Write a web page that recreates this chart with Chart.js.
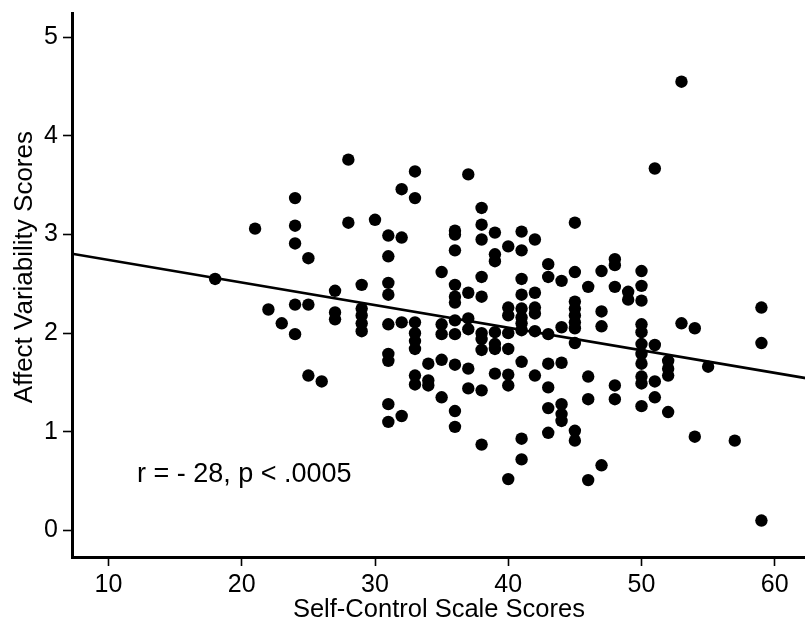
<!DOCTYPE html>
<html><head><meta charset="utf-8">
<script src="https://cdn.jsdelivr.net/npm/chart.js@4.4.1/dist/chart.umd.min.js"></script>
<style>html,body{margin:0;padding:0;background:#fff;overflow:hidden;}#wrap{width:805px;height:633px;overflow:hidden;}canvas{display:block;}</style>
</head><body>
<div id="wrap"><canvas id="c" width="812" height="633"></canvas></div>
<script>
const xTickValues = [10, 20, 30, 40, 50, 60];
const yTickValues = [0, 1, 2, 3, 4, 5];
const xTitle = 'Self-Control Scale Scores';
const yTitle = 'Affect Variability Scores';
const noteText = 'r = - 28, p < .0005';

const scoreX = [
  18, 21, 22, 23,
  24, 24, 24, 24, 24,
  25, 25, 25, 26,
  27, 27, 27, 28, 28,
  29, 29, 29, 29, 29, 30,
  31, 31, 31, 31, 31, 31, 31, 31, 31,
  32, 32, 32, 32,
  33, 33, 33, 33, 33, 33, 33, 33,
  34, 34, 34,
  35, 35, 35, 35, 35,
  36, 36, 36, 36, 36, 36, 36, 36, 36, 36, 36,
  37, 37, 37, 37, 37, 37,
  38, 38, 38, 38, 38, 38, 38, 38, 38, 38,
  39, 39, 39, 39, 39, 39, 39,
  40, 40, 40, 40, 40, 40, 40, 40,
  41, 41, 41, 41, 41, 41, 41, 41, 41, 41, 41,
  42, 42, 42, 42, 42, 42,
  43, 43, 43, 43, 43, 43, 43,
  44, 44, 44, 44, 44, 44,
  45, 45, 45, 45, 45, 45, 45, 45, 45, 45,
  46, 46, 46, 46,
  47, 47, 47, 47,
  48, 48, 48, 48, 48,
  49, 49,
  50, 50, 50, 50, 50, 50, 50, 50, 50, 50, 50,
  51, 51, 51, 51,
  52, 52, 52, 52,
  53, 53, 54, 54, 55, 57,
  59, 59, 59
];
const scoreY = [
  2.55, 3.06, 2.24, 2.10,
  3.37, 3.09, 2.91, 2.29, 1.99,
  2.76, 2.29, 1.57, 1.51,
  2.43, 2.21, 2.14, 3.76, 3.12,
  2.49, 2.25, 2.18, 2.10, 2.02, 3.15,
  2.99, 2.78, 2.51, 2.39, 2.09, 1.79, 1.72, 1.28, 1.10,
  3.46, 2.97, 2.11, 1.16,
  3.64, 3.37, 2.11, 2.00, 1.92, 1.84, 1.57, 1.48,
  1.69, 1.52, 1.47,
  2.62, 2.09, 1.99, 1.73, 1.35,
  3.04, 3.00, 2.84, 2.49, 2.37, 2.31, 2.13, 1.99, 1.68, 1.21, 1.05,
  3.61, 2.41, 2.15, 2.04, 1.64, 1.44,
  3.27, 3.10, 2.95, 2.57, 2.37, 2.00, 1.94, 1.83, 1.42, 0.87,
  3.02, 2.80, 2.73, 2.01, 1.89, 1.84, 1.59,
  2.88, 2.26, 2.18, 2.00, 1.84, 1.58, 1.47, 0.52,
  3.03, 2.84, 2.55, 2.39, 2.25, 2.16, 2.10, 2.03, 1.71, 0.93, 0.72,
  2.95, 2.41, 2.26, 2.20, 2.02, 1.57,
  2.70, 2.57, 1.99, 1.69, 1.45, 1.24, 0.99,
  2.53, 2.06, 1.70, 1.28, 1.18, 1.11,
  3.12, 2.62, 2.32, 2.25, 2.18, 2.11, 2.05, 1.90, 1.01, 0.91,
  2.47, 1.56, 1.33, 0.51,
  2.63, 2.22, 2.07, 0.66,
  2.75, 2.69, 2.47, 1.47, 1.33,
  2.42, 2.34,
  2.63, 2.48, 2.33, 2.09, 2.01, 1.89, 1.79, 1.69, 1.56, 1.49, 1.26,
  3.67, 1.88, 1.51, 1.35,
  1.72, 1.64, 1.57, 1.20,
  4.55, 2.10, 2.05, 0.95, 1.66, 0.91,
  2.26, 1.90, 0.10
];
const fitX = [7.26, 62.33];
const fitY = [2.805, 1.544];

const FONT = '"Liberation Sans", Arial, sans-serif';

const textPlugin = {
  id: 'texts',
  afterDatasetsDraw(chart) {
    const {ctx, scales} = chart;
    ctx.save();
    ctx.fillStyle = '#000';
    ctx.font = '27px ' + FONT;
    ctx.textAlign = 'left';
    ctx.textBaseline = 'alphabetic';
    ctx.fillText(noteText, scales.x.getPixelForValue(12.13), scales.y.getPixelForValue(0.49));
    ctx.font = '26px ' + FONT;
    ctx.textAlign = 'center';
    ctx.textBaseline = 'middle';
    ctx.translate(25, scales.y.getPixelForValue(2.67));
    ctx.rotate(-Math.PI / 2);
    ctx.fillText(yTitle, 0, 0);
    ctx.restore();
  }
};

new Chart(document.getElementById('c'), {
  type: 'scatter',
  data: {
    datasets: [
      {
        type: 'line',
        data: fitX.map((x, i) => ({x, y: fitY[i]})),
        borderColor: '#000',
        borderWidth: 2.6,
        pointRadius: 0,
        fill: false,
        order: 2
      },
      {
        data: scoreX.map((x, i) => ({x, y: scoreY[i]})),
        backgroundColor: '#000',
        borderColor: '#000',
        borderWidth: 0,
        pointRadius: 6.2,
        pointHoverRadius: 6.2,
        order: 1
      }
    ]
  },
  options: {
    responsive: false,
    animation: false,
    devicePixelRatio: 1,
    layout: {padding: {top: 13.7, right: 0, bottom: 0, left: 0}},
    plugins: {legend: {display: false}, tooltip: {enabled: false}},
    events: [],
    scales: {
      x: {
        type: 'linear',
        min: 7.26,
        max: 62.33,
        afterBuildTicks: s => { s.ticks = xTickValues.map(v => ({value: v})); },
        afterFit: s => { s.height = 76; s.paddingLeft = 0; s.paddingRight = 0; },
        grid: {drawOnChartArea: false, drawTicks: true, tickLength: 9, tickWidth: 1.6, tickColor: '#000'},
        border: {display: true, color: '#000', width: 3},
        ticks: {color: '#000', padding: 4, font: {family: FONT, size: 25}, maxRotation: 0, autoSkip: false},
        title: {display: true, text: xTitle, color: '#000', font: {family: FONT, size: 25.5}, padding: {top: 0, bottom: 8}}
      },
      y: {
        type: 'linear',
        min: -0.27,
        max: 5.24,
        afterBuildTicks: s => { s.ticks = yTickValues.map(v => ({value: v})); },
        afterFit: s => { s.width = 72; s.paddingTop = 0; s.paddingBottom = 0; },
        grid: {drawOnChartArea: false, drawTicks: true, tickLength: 9, tickWidth: 1.6, tickColor: '#000'},
        border: {display: true, color: '#000', width: 3},
        ticks: {color: '#000', padding: 5, font: {family: FONT, size: 25}, autoSkip: false}
      }
    }
  },
  plugins: [textPlugin]
});
</script>
</body></html>
